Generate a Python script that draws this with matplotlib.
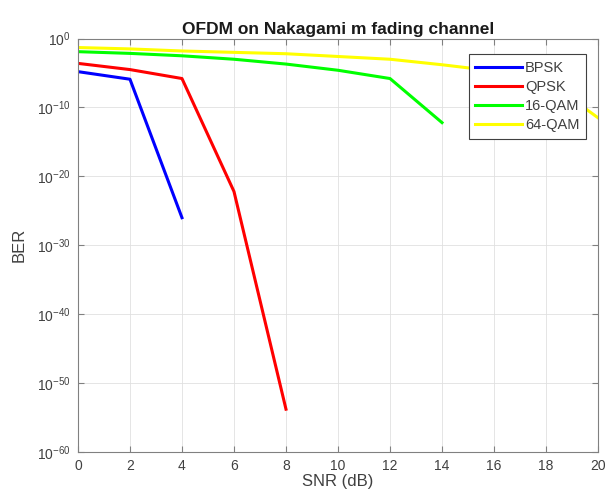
import matplotlib
matplotlib.use("Agg")
import matplotlib.pyplot as plt
import numpy as np
from matplotlib.ticker import FixedLocator, NullLocator

plt.rcParams['font.family'] = ['Liberation Sans', 'DejaVu Sans']
plt.rcParams['mathtext.fontset'] = 'custom'
plt.rcParams['mathtext.rm'] = 'Liberation Sans'

snr_bpsk = [0, 2, 4]
exp_bpsk = [-4.8, -5.9, -26.0]

snr_qpsk = [0, 2, 4, 6, 8]
exp_qpsk = [-3.6, -4.5, -5.8, -22.2, -53.8]

snr_16qam = [0, 2, 4, 6, 8, 10, 12, 14]
exp_16qam = [-1.9, -2.15, -2.5, -3.0, -3.7, -4.6, -5.8, -12.2]

snr_64qam = [0, 2, 4, 6, 8, 10, 12, 14, 16, 18, 20]
exp_64qam = [-1.3, -1.5, -1.8, -2.0, -2.2, -2.6, -3.0, -3.8, -4.7, -6.0, -11.5]

series = [
    ('BPSK', snr_bpsk, exp_bpsk, (0, 0, 1)),
    ('QPSK', snr_qpsk, exp_qpsk, (1, 0, 0)),
    ('16-QAM', snr_16qam, exp_16qam, (0, 1, 0)),
    ('64-QAM', snr_64qam, exp_64qam, (1, 1, 0)),
]

fig = plt.figure(figsize=(6.09, 5.01), dpi=100)
ax = fig.add_axes([0.128, 0.098, 0.854, 0.825])

for name, x, e, c in series:
    ax.semilogy(x, 10.0 ** np.array(e), color=c, lw=2.2, label=name)

ax.set_xlim(0, 20)
ax.set_ylim(1e-60, 1e0)
ax.set_xticks(np.arange(0, 21, 2))
ax.yaxis.set_major_locator(FixedLocator([10.0 ** k for k in range(-60, 1, 10)]))
ax.yaxis.set_minor_locator(NullLocator())

grey = '#404040'
ax.grid(True, color='#e0e0e0', lw=0.6)
ax.set_axisbelow(True)
for s in ax.spines.values():
    s.set_color('#808080')
    s.set_linewidth(0.8)
ax.tick_params(direction='in', top=True, right=True, labelsize=10,
               colors='#808080', labelcolor=grey, length=4, pad=5)

ax.set_title('OFDM on Nakagami m fading channel', fontsize=12.5,
             fontweight='bold', pad=3, color='#1a1a1a')
ax.set_xlabel('SNR (dB)', fontsize=12, color=grey, labelpad=1)
ax.set_ylabel('BER', fontsize=12, color=grey, labelpad=8)

leg = ax.legend(loc='upper right', bbox_to_anchor=(0.977, 0.9625),
                borderaxespad=0, fontsize=10.5, handlelength=3.2,
                handletextpad=0.2, fancybox=False, framealpha=1,
                labelspacing=0.35, borderpad=0.45)
leg.get_frame().set_edgecolor('#404040')
leg.get_frame().set_linewidth(0.8)
for t in leg.get_texts():
    t.set_color(grey)

fig.savefig('out.png', dpi=100)
